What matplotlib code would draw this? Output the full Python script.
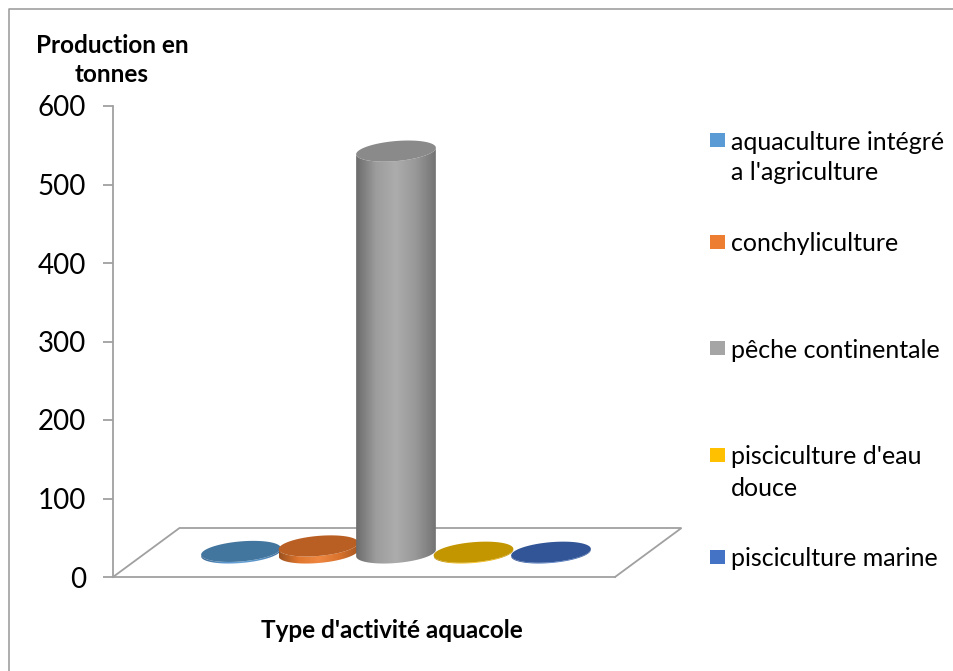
import numpy as np
import matplotlib
matplotlib.use("Agg")
import matplotlib.pyplot as plt
from matplotlib.patches import Polygon, Rectangle
from matplotlib.colors import to_rgb, LinearSegmentedColormap

# ---------------- data ----------------
categories = ["aquaculture intégré\na l'agriculture", "conchyliculture",
              "pêche continentale", "pisciculture d'eau\ndouce", "pisciculture marine"]
values = [2, 9, 512, 1, 1]
legend_colors = ["#5b9bd5", "#ed7d31", "#a5a5a5", "#ffc000", "#4472c4"]
top_colors = ["#43769f", "#ba5f23", "#8a8a8a", "#c39600", "#315597"]
yticks = [0, 100, 200, 300, 400, 500, 600]
ylabel = "Production en\ntonnes"
xlabel = "Type d'activité aquacole"

FONT = ["Lato", "DejaVu Sans"]
plt.rcParams['font.family'] = FONT

W, H = 954, 671
fig = plt.figure(figsize=(W / 100, H / 100), dpi=100)
fig.patch.set_facecolor("white")

# axes placed in pixel layout
ax_l, ax_r, ax_t, ax_b = 113, 615, 106, 577
ax = fig.add_axes([ax_l / W, (H - ax_b) / H, (ax_r - ax_l) / W, (ax_b - ax_t) / H])
px_per_idx = 77.5
x0_px = 241
ax.set_xlim((ax_l - x0_px) / px_per_idx, (ax_r - x0_px) / px_per_idx)
ax.set_ylim(0, 600)
px_per_val = (ax_b - ax_t) / 600.0
ax.set_facecolor("none")

grey = "#a0a0a0"
for s in ["top", "right"]:
    ax.spines[s].set_visible(False)
ax.spines["left"].set_color(grey)
ax.spines["bottom"].set_color(grey)
ax.spines["left"].set_linewidth(1.3)
ax.spines["bottom"].set_linewidth(1.3)
ax.set_xticks([])
ax.set_yticks(yticks)
ax.tick_params(axis="y", direction="out", length=7, width=1.3, color=grey,
               labelsize=20, pad=12.5)

# floor parallelogram
dep_x = 66.5 / px_per_idx
dep_y = 49 / px_per_val
xl, xr = ax.get_xlim()
ax.plot([xr, xr + dep_x, xl + dep_x, xl], [0, dep_y, dep_y, 0], color=grey,
        lw=1.3, clip_on=False, solid_joinstyle="miter")

# cylinders
a_px, b_px, theta = 40.0, 10.0, np.deg2rad(5)
base_off = 30.6  # value units (mid depth of floor)
t = np.linspace(0, 2 * np.pi, 721)[:-1]
ex = a_px * np.cos(t) * np.cos(theta) - b_px * np.sin(t) * np.sin(theta)
ey = a_px * np.cos(t) * np.sin(theta) + b_px * np.sin(t) * np.cos(theta)
ex_d = ex / px_per_idx
ey_d = ey / px_per_val
i_min, i_max = np.argmin(ex_d), np.argmax(ex_d)
idx = np.arange(len(t))
if i_min < i_max:
    arc1 = idx[i_min:i_max + 1]
    arc2 = np.concatenate([idx[i_max:], idx[:i_min + 1]])
else:
    arc1 = np.concatenate([idx[i_min:], idx[:i_max + 1]])
    arc2 = idx[i_max:i_min + 1]
lower = arc1 if ey_d[arc1].mean() < ey_d[arc2].mean() else arc2
if ex_d[lower[0]] > ex_d[lower[-1]]:
    lower = lower[::-1]


def shade(c, f):
    c = np.array(to_rgb(c))
    if f < 0:
        return tuple(c * (1 + f))
    return tuple(c + (1 - c) * f)


for i, (v, lc, tc) in enumerate(zip(values, legend_colors, top_colors)):
    cx = i
    yb = base_off
    yt = base_off + v
    side_x = np.concatenate([cx + ex_d[lower], cx + ex_d[lower][::-1]])
    side_y = np.concatenate([yb + ey_d[lower], yt + ey_d[lower][::-1]])
    poly = Polygon(np.column_stack([side_x, side_y]), closed=True,
                   facecolor="none", edgecolor="none", clip_on=False, zorder=3 + i)
    ax.add_patch(poly)
    cmap = LinearSegmentedColormap.from_list(
        "c%d" % i, [shade(lc, -0.35), shade(lc, -0.05), shade(lc, 0.08),
                    shade(lc, -0.08), shade(lc, -0.3)])
    grad = np.linspace(0, 1, 256).reshape(1, -1)
    im = ax.imshow(grad, cmap=cmap, aspect="auto",
                   extent=[side_x.min(), side_x.max(), side_y.min(), side_y.max()],
                   zorder=3 + i, clip_on=True)
    im.set_clip_path(poly)
    top = Polygon(np.column_stack([cx + ex_d, yt + ey_d]), closed=True,
                  facecolor=tc, edgecolor="none", clip_on=False, zorder=3 + i)
    ax.add_patch(top)

ax.set_xlim(xl, xr)
ax.set_ylim(0, 600)

# axis titles
fig.text(112 / W, 1 - 60 / H, ylabel, ha="center", va="center", fontsize=17.5,
         fontweight="bold", linespacing=1.32)
fig.text(392 / W, 1 - 630 / H, xlabel, ha="center", va="center", fontsize=17.5,
         fontweight="bold")

# legend
leg_y = [140, 242, 348, 455, 557]
line_gap = 31
for lab, col, yy in zip(categories, legend_colors, leg_y):
    fig.patches.append(Rectangle((710 / W, 1 - (yy + 7) / H), 15 / W, 14 / H,
                                 transform=fig.transFigure, facecolor=col,
                                 edgecolor="none"))
    for k, line in enumerate(lab.split("\n")):
        fig.text(731 / W, 1 - (yy + k * line_gap) / H, line, ha="left",
                 va="center_baseline", fontsize=18)

# outer border (top and left)
fig.add_artist(plt.Line2D([9 / W, 9 / W, 1], [0, 1 - 9 / H, 1 - 9 / H],
                          transform=fig.transFigure, color="#a0a0a0", lw=1.2))

fig.savefig("out.png", dpi=100)
